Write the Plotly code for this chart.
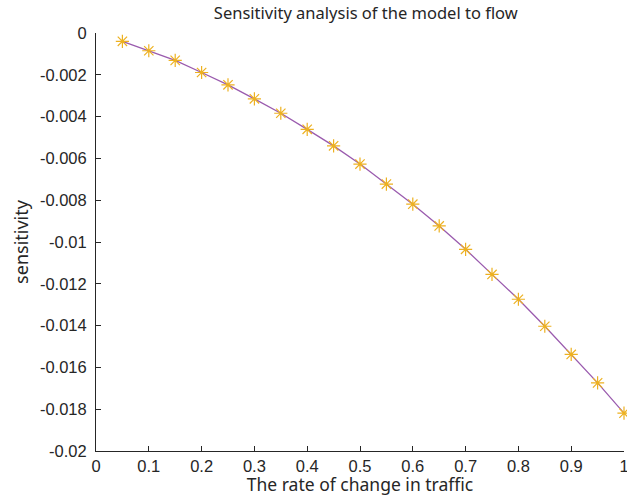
import plotly.graph_objects as go

rate = [0.05, 0.10, 0.15, 0.20, 0.25, 0.30, 0.35, 0.40, 0.45, 0.50,
        0.55, 0.60, 0.65, 0.70, 0.75, 0.80, 0.85, 0.90, 0.95, 1.00]
sensitivity = [-0.00040, -0.00085, -0.00131, -0.00189, -0.00248, -0.00315,
               -0.00384, -0.00461, -0.00540, -0.00627, -0.00723, -0.00819,
               -0.00923, -0.01035, -0.01155, -0.01274, -0.01403, -0.01538,
               -0.01674, -0.01819]
x_ticks = [0, 0.1, 0.2, 0.3, 0.4, 0.5, 0.6, 0.7, 0.8, 0.9, 1]
y_ticks = [0, -0.002, -0.004, -0.006, -0.008, -0.01, -0.012, -0.014,
           -0.016, -0.018, -0.02]
y_tick_text = ["0", "-0.002", "-0.004", "-0.006", "-0.008", "-0.01", "-0.012",
               "-0.014", "-0.016", "-0.018", "-0.02"]

fig = go.Figure()
fig.add_trace(go.Scatter(x=rate, y=sensitivity, mode="lines",
                         line=dict(color="#9A5BAE", width=1.3),
                         cliponaxis=False, showlegend=False))
fig.add_trace(go.Scatter(x=rate, y=sensitivity, mode="markers",
                         marker=dict(symbol="asterisk-open", size=11,
                                     color="#EDB120",
                                     line=dict(color="#EDB120", width=1.2)),
                         cliponaxis=False, showlegend=False))

axis_font = dict(family="Liberation Sans, Arial", size=16.5, color="#262626")
fig.update_layout(
    width=627, height=496,
    margin=dict(l=96, r=3, t=33, b=45),
    plot_bgcolor="white", paper_bgcolor="white",
    title=dict(text="Sensitivity analysis of the model to flow",
               x=0.511, xanchor="center", y=1 - 13 / 496, yanchor="middle",
               xref="paper", yref="container",
               font=dict(family="Noto Sans", size=16.5, color="#262626")),
    xaxis=dict(range=[0, 1], tickvals=x_ticks, ticktext=[str(t) for t in x_ticks],
               showgrid=False, zeroline=False, showline=True, automargin=False,
               linecolor="#262626", linewidth=1, ticks="inside", ticklen=5,
               tickcolor="#262626", tickfont=axis_font, ticklabeloverflow="allow",
               title=dict(text="The rate of change in traffic", standoff=0,
                          font=dict(family="Noto Sans", size=17.5, color="#262626"))),
    yaxis=dict(range=[-0.02, 0], tickvals=y_ticks, ticktext=y_tick_text,
               showgrid=False, zeroline=False, showline=True, automargin=False,
               linecolor="#262626", linewidth=1, ticks="inside", ticklen=5,
               tickcolor="#262626", tickfont=axis_font, ticklabelstandoff=5,
               ticklabeloverflow="allow",
               title=dict(text="sensitivity", standoff=6,
                          font=dict(family="Noto Sans", size=18, color="#262626"))),
)

fig.write_html("out.html", config={"displayModeBar": False},
               post_script="document.body.style.margin = '0';")
